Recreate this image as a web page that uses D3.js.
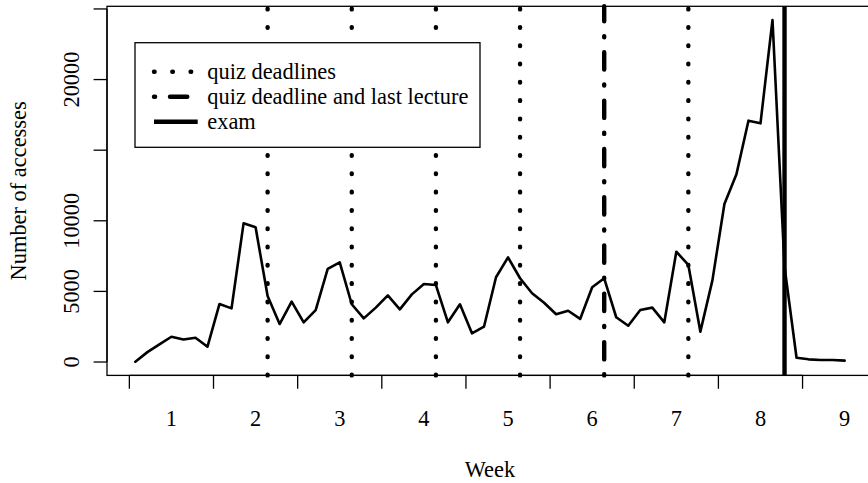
<!DOCTYPE html>
<html>
<head>
<meta charset="utf-8">
<script src="https://cdn.jsdelivr.net/npm/d3@7"></script>
<style>
  html, body { margin: 0; padding: 0; background: #fff; }
  svg { display: block; }
  text { font-family: "Liberation Serif", "DejaVu Serif", serif; fill: #000; }
</style>
</head>
<body>
<svg id="chart" width="868" height="483"></svg>
<script>
// ---- data ----
const days = d3.range(1, 61);
const accesses = [
  20, 700, 1250, 1790, 1600, 1720, 1085,
  4110, 3800, 9820, 9540, 4670, 2690, 4270,
  2810, 3680, 6590, 7060, 4090, 3090, 3850,
  4720, 3730, 4790, 5520, 5450, 2810, 4090,
  2030, 2500, 6000, 7410, 5930, 4870, 4200,
  3380, 3630, 3050, 5290, 5930, 3170, 2570,
  3680, 3850, 2810, 7810, 6870, 2150, 5780,
  11190, 13290, 17090, 16900, 24220, 6750, 305,
  190, 140, 140, 100
];
const quizDays = [12, 19, 26, 33, 47];
const quizLectureDays = [40];
const examDays = [55];
const weekLabels = ["1", "2", "3", "4", "5", "6", "7", "8", "9"];
const weekTicks = d3.range(0.5, 62, 7);       // week boundaries (days)
const weekLabelPos = d3.range(4, 61, 7);       // week centers (days)
const yTicks = [0, 5000, 10000, 15000, 20000, 25000];
const yLabelled = [0, 5000, 10000, 20000];
const legendItems = [
  {label: "quiz deadlines", type: "dot"},
  {label: "quiz deadline and last lecture", type: "dashdot"},
  {label: "exam", type: "solid"}
];

// ---- layout ----
const svg = d3.select("#chart");
const L = 107, R = 873, T = 6.3, B = 375.4;
const FS = 22.4;

const xMin = d3.min(days), xMax = d3.max(days);
const xPad = 0.04 * (xMax - xMin);
const x = d3.scaleLinear().domain([xMin - xPad, xMax + xPad]).range([L, R]);
const yMinV = d3.min(accesses), yMaxV = d3.max(accesses);
const yPad = 0.04 * (yMaxV - yMinV);
const y = d3.scaleLinear().domain([yMinV - yPad, yMaxV + yPad]).range([B, T]);

const styles = {
  dot:     {w: 4.4, dash: "0.6 17.7"},
  dashdot: {w: 4.4, dash: "1.1 14.9 17.3 15"},
  solid:   {w: 4.4, dash: null}
};

// vertical reference lines (drawn bottom-to-top so the pattern starts at the bottom)
function vlines(list, type) {
  const s = styles[type];
  svg.append("g").selectAll("line").data(list).join("line")
    .attr("x1", d => x(d)).attr("x2", d => x(d))
    .attr("y1", B).attr("y2", T)
    .attr("stroke", "#000").attr("stroke-width", s.w)
    .attr("stroke-linecap", s.dash ? "round" : "butt")
    .attr("stroke-dasharray", s.dash);
}
vlines(quizDays, "dot");
vlines(quizLectureDays, "dashdot");
vlines(examDays, "solid");

// data line
const line = d3.line().x((d, i) => x(days[i])).y(d => y(d));
svg.append("path").datum(accesses)
  .attr("d", line).attr("fill", "none")
  .attr("stroke", "#000").attr("stroke-width", 2.6)
  .attr("stroke-linejoin", "round").attr("stroke-linecap", "round");

// box
svg.append("rect").attr("x", L).attr("y", T).attr("width", R - L).attr("height", B - T)
  .attr("fill", "none").attr("stroke", "#000").attr("stroke-width", 1.3);

// x axis ticks
const tickLen = 13.4;
const xT = weekTicks.filter(d => x(d) >= L && x(d) <= R);
svg.append("g").selectAll("line").data(xT).join("line")
  .attr("x1", d => x(d)).attr("x2", d => x(d))
  .attr("y1", B).attr("y2", B + tickLen)
  .attr("stroke", "#000").attr("stroke-width", 1.3);
svg.append("line").attr("x1", x(xT[0])).attr("x2", x(xT[xT.length - 1]))
  .attr("y1", B).attr("y2", B).attr("stroke", "#000").attr("stroke-width", 1.3);
svg.append("g").selectAll("text").data(weekLabelPos).join("text")
  .attr("x", d => x(d)).attr("y", 426)
  .attr("text-anchor", "middle").attr("font-size", FS)
  .text((d, i) => weekLabels[i]);

// y axis
svg.append("line").attr("x1", L).attr("x2", L)
  .attr("y1", y(yTicks[0])).attr("y2", y(yTicks[yTicks.length - 1]))
  .attr("stroke", "#000").attr("stroke-width", 1.3);
svg.append("g").selectAll("line").data(yTicks).join("line")
  .attr("x1", L - tickLen).attr("x2", L)
  .attr("y1", d => y(d)).attr("y2", d => y(d))
  .attr("stroke", "#000").attr("stroke-width", 1.3);
svg.append("g").selectAll("text").data(yLabelled).join("text")
  .attr("transform", d => `translate(79,${y(d)}) rotate(-90)`)
  .attr("text-anchor", "middle").attr("font-size", FS)
  .text(d => String(d));

// axis titles
svg.append("text").attr("x", (L + R) / 2).attr("y", 477)
  .attr("text-anchor", "middle").attr("font-size", FS).text("Week");
svg.append("text")
  .attr("transform", `translate(26,${(T + B) / 2}) rotate(-90)`)
  .attr("text-anchor", "middle").attr("font-size", FS).text("Number of accesses");

// legend
const lg = svg.append("g");
lg.append("rect").attr("x", 135).attr("y", 42.7).attr("width", 345).attr("height", 104.6)
  .attr("fill", "#fff").attr("stroke", "#000").attr("stroke-width", 1.3);
const rowY = [71.7, 96.7, 121.7];
legendItems.forEach((it, i) => {
  const s = styles[it.type];
  lg.append("line").attr("x1", 154).attr("x2", 197.7)
    .attr("y1", rowY[i]).attr("y2", rowY[i])
    .attr("stroke", "#000").attr("stroke-width", s.w)
    .attr("stroke-linecap", s.dash ? "round" : "butt")
    .attr("stroke-dasharray", s.dash);
  lg.append("text").attr("x", 207.3).attr("y", rowY[i])
    .attr("dy", "0.33em").attr("font-size", FS).text(it.label);
});
</script>
</body>
</html>
